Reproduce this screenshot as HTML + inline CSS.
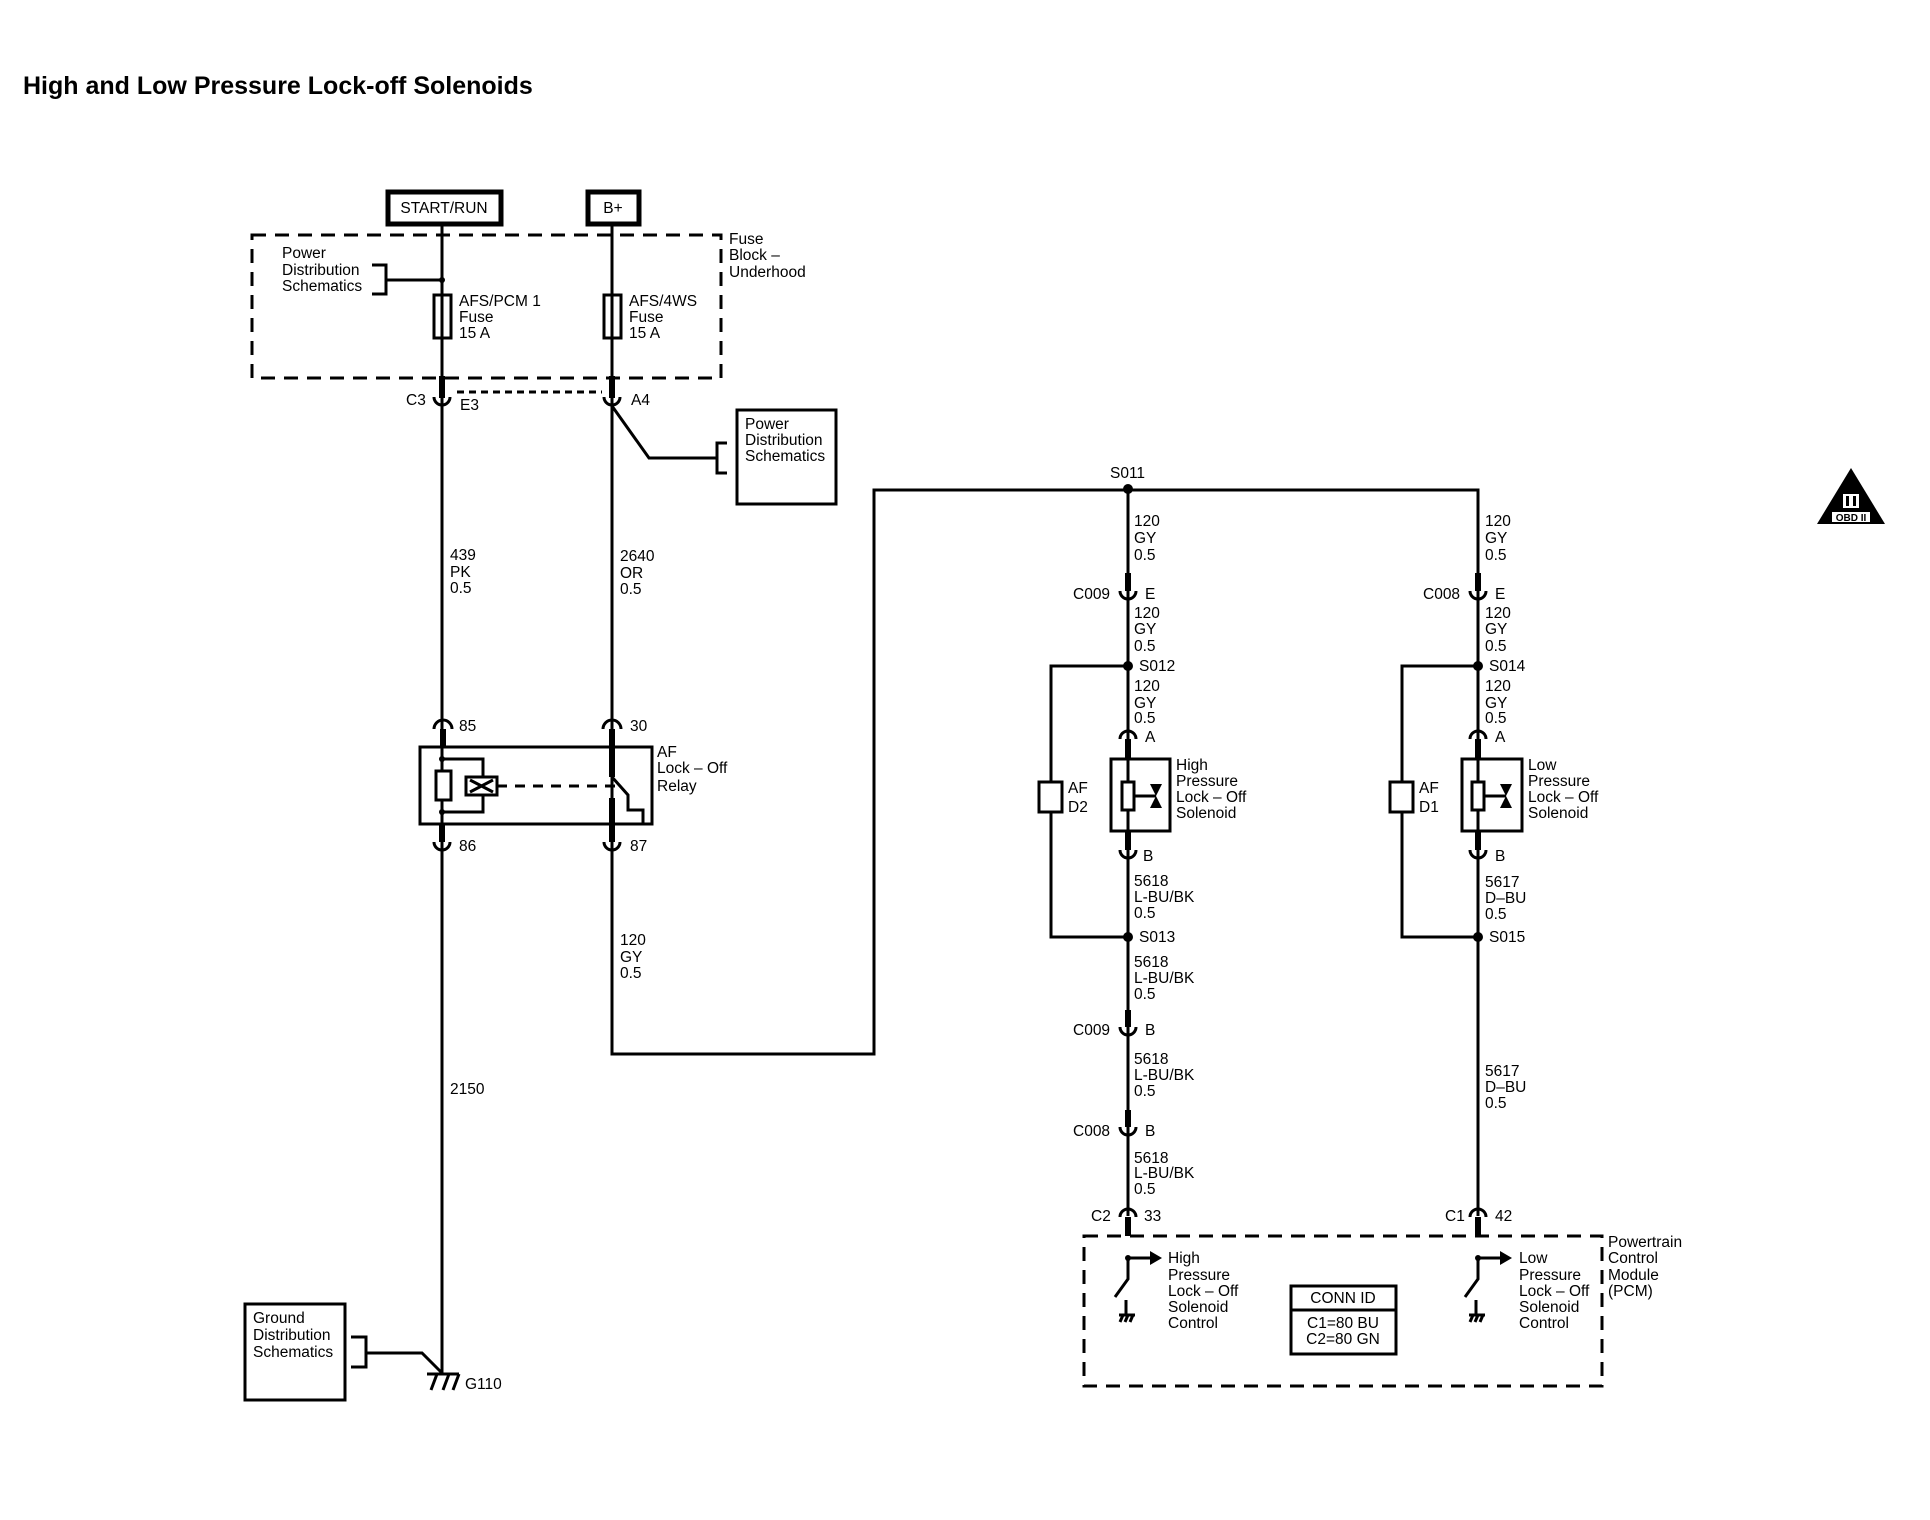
<!DOCTYPE html>
<html><head><meta charset="utf-8"><style>
html,body{margin:0;padding:0;background:#fff;}
svg{display:block;}
text{font-family:"Liberation Sans",sans-serif;font-size:15.5px;fill:#000;}
</style></head><body>
<svg width="1930" height="1520" viewBox="0 0 1930 1520" xmlns="http://www.w3.org/2000/svg">
<g fill="none" stroke="#000" stroke-width="3">
<path d="M442 226V1374"/>
<path d="M612 226V1054H874V490H1478V1216"/>
<path d="M1128 489V1216"/>
<rect x="388" y="192" width="113" height="32" stroke-width="5" fill="#fff"/>
<rect x="588" y="192" width="51" height="32" stroke-width="5" fill="#fff"/>
<rect x="252" y="235" width="469" height="143" stroke-dasharray="14 9"/>
<path d="M372 265H386V294H372M386 280H442"/>
<rect x="434" y="295" width="17" height="43" fill="#fff"/>
<path d="M442 295V338"/>
<rect x="604" y="295" width="17" height="43" fill="#fff"/>
<path d="M612 295V338"/>
<path d="M457 392H602" stroke-dasharray="7 5"/>
<path d="M434 397A8 8 0 0 0 450 397M604 397A8 8 0 0 0 620 397"/>
<path d="M612 406L649 458H717M727 443H717V473H727"/>
<rect x="737" y="410" width="99" height="94"/>
<path d="M434 729A9 9 0 0 1 452 729M603 729A9 9 0 0 1 621 729"/>
<rect x="420" y="747" width="232" height="77"/>
<path d="M442 759H483V777M483 795V812H442"/>
<rect x="436" y="771" width="15" height="29" fill="#fff"/>
<rect x="466" y="777" width="31" height="18" fill="#fff"/>
<path d="M470 780L493 792M493 780L470 792"/>
<path d="M497 786H620" stroke-dasharray="10 8"/>
<path d="M612 777L628 795V810H643V824"/>
<path d="M434 842A8 8 0 0 0 450 842M604 842A8 8 0 0 0 620 842"/>
<rect x="245" y="1304" width="100" height="96"/>
<path d="M351 1337H366V1367H351M366 1353H422L442 1373"/>
<path d="M427 1374H459M437 1374L431 1390M449 1374L443 1390M459 1374L453 1390"/>
<path d="M1128 666H1051V937H1128M1478 666H1402V937H1478"/>
<rect x="1039" y="782" width="23" height="30" fill="#fff"/>
<rect x="1390" y="782" width="23" height="30" fill="#fff"/>
<path d="M1120 591A8 8 0 0 0 1136 591M1470 591A8 8 0 0 0 1486 591"/>
<path d="M1120 739A8 8 0 0 1 1136 739M1470 739A8 8 0 0 1 1486 739"/>
<path d="M1120 850A8 8 0 0 0 1136 850M1470 850A8 8 0 0 0 1486 850"/>
<path d="M1120 1027A8 8 0 0 0 1136 1027M1120 1127A8 8 0 0 0 1136 1127"/>
<path d="M1120 1217A8 8 0 0 1 1136 1217M1470 1217A8 8 0 0 1 1486 1217"/>
<rect x="1111" y="759" width="59" height="72"/>
<rect x="1462" y="759" width="60" height="72"/>
<rect x="1122" y="782" width="12" height="28" fill="#fff"/>
<rect x="1472" y="782" width="12" height="28" fill="#fff"/>
<path d="M1134 796H1156M1484 796H1506"/>
<rect x="1084" y="1236" width="518" height="150" stroke-dasharray="14 9"/>
<path d="M1128 1258H1150M1128 1258V1279L1115 1297M1126 1300V1314M1119 1315H1135M1123 1315L1120 1322M1128 1315L1125 1322M1133 1315L1130 1322"/>
<path d="M1478 1258H1500M1478 1258V1279L1465 1297M1476 1300V1314M1469 1315H1485M1473 1315L1470 1322M1478 1315L1475 1322M1483 1315L1480 1322"/>
<rect x="1291" y="1286" width="105" height="68"/>
<path d="M1291 1310H1396"/>
</g>
<g stroke="#000" stroke-width="6" fill="none">
<path d="M442 376V398M612 376V398"/>
<path d="M443 729V747M612 729V777M612 798V842M442 824V842"/>
<path d="M1128 573V591M1478 573V591M1128 739V759M1478 739V759M1128 831V850M1478 831V850"/>
<path d="M1128 1010V1027M1128 1110V1127"/>
<path d="M1128 1217V1236M1478 1217V1236"/>
</g>
<g fill="#000">
<circle cx="442" cy="280" r="3"/>
<circle cx="442" cy="759" r="3"/><circle cx="442" cy="812" r="3"/>
<circle cx="1128" cy="489" r="5"/>
<circle cx="1128" cy="666" r="5"/><circle cx="1128" cy="937" r="5"/>
<circle cx="1478" cy="666" r="5"/><circle cx="1478" cy="937" r="5"/>
<circle cx="1128" cy="1258" r="3"/><circle cx="1478" cy="1258" r="3"/>
<polygon points="1150,784 1162,784 1156,796 1162,808 1150,808 1156,796"/>
<polygon points="1500,784 1512,784 1506,796 1512,808 1500,808 1506,796"/>
<polygon points="1150,1251 1162,1258 1150,1265"/>
<polygon points="1500,1251 1512,1258 1500,1265"/>
<polygon points="1851,468 1885,524 1817,524"/>
</g>
<rect x="1832" y="512" width="38" height="10" fill="#fff"/>
<rect x="1843" y="494" width="16" height="14" fill="#fff"/>
<rect x="1846" y="496" width="3" height="10" fill="#000"/><rect x="1853" y="496" width="3" height="10" fill="#000"/>
<text x="1851" y="521" text-anchor="middle" style="font-size:10px;font-weight:bold">OBD II</text>

<text x="23" y="94" style="font-size:25px;font-weight:bold">High and Low Pressure Lock-off Solenoids</text>
<text x="444" y="213" text-anchor="middle">START/RUN</text>
<text x="613" y="213" text-anchor="middle">B+</text>
<text x="729" y="244">Fuse</text><text x="729" y="260">Block –</text><text x="729" y="277">Underhood</text>
<text x="282" y="258">Power</text><text x="282" y="275">Distribution</text><text x="282" y="291">Schematics</text>
<text x="459" y="306">AFS/PCM 1</text><text x="459" y="322">Fuse</text><text x="459" y="338">15 A</text>
<text x="629" y="306">AFS/4WS</text><text x="629" y="322">Fuse</text><text x="629" y="338">15 A</text>
<text x="406" y="405">C3</text><text x="460" y="410">E3</text><text x="631" y="405">A4</text>
<text x="745" y="429">Power</text><text x="745" y="445">Distribution</text><text x="745" y="461">Schematics</text>
<text x="450" y="560">439</text><text x="450" y="577">PK</text><text x="450" y="593">0.5</text>
<text x="620" y="561">2640</text><text x="620" y="578">OR</text><text x="620" y="594">0.5</text>
<text x="459" y="731">85</text><text x="630" y="731">30</text>
<text x="657" y="757">AF</text><text x="657" y="773">Lock – Off</text><text x="657" y="791">Relay</text>
<text x="459" y="851">86</text><text x="630" y="851">87</text>
<text x="620" y="945">120</text><text x="620" y="962">GY</text><text x="620" y="978">0.5</text>
<text x="450" y="1094">2150</text>
<text x="253" y="1323">Ground</text><text x="253" y="1340">Distribution</text><text x="253" y="1357">Schematics</text>
<text x="465" y="1389">G110</text>
<text x="1110" y="478">S011</text>
<text x="1134" y="526">120</text><text x="1134" y="543">GY</text><text x="1134" y="560">0.5</text>
<text x="1485" y="526">120</text><text x="1485" y="543">GY</text><text x="1485" y="560">0.5</text>
<text x="1073" y="599">C009</text><text x="1145" y="599">E</text>
<text x="1423" y="599">C008</text><text x="1495" y="599">E</text>
<text x="1134" y="618">120</text><text x="1134" y="634">GY</text><text x="1134" y="651">0.5</text>
<text x="1485" y="618">120</text><text x="1485" y="634">GY</text><text x="1485" y="651">0.5</text>
<text x="1139" y="671">S012</text><text x="1489" y="671">S014</text>
<text x="1134" y="691">120</text><text x="1134" y="708">GY</text><text x="1134" y="723">0.5</text>
<text x="1485" y="691">120</text><text x="1485" y="708">GY</text><text x="1485" y="723">0.5</text>
<text x="1145" y="742">A</text><text x="1495" y="742">A</text>
<text x="1068" y="793">AF</text><text x="1068" y="812">D2</text>
<text x="1419" y="793">AF</text><text x="1419" y="812">D1</text>
<text x="1176" y="770">High</text><text x="1176" y="786">Pressure</text><text x="1176" y="802">Lock – Off</text><text x="1176" y="818">Solenoid</text>
<text x="1528" y="770">Low</text><text x="1528" y="786">Pressure</text><text x="1528" y="802">Lock – Off</text><text x="1528" y="818">Solenoid</text>
<text x="1143" y="861">B</text><text x="1495" y="861">B</text>
<text x="1134" y="886">5618</text><text x="1134" y="902">L-BU/BK</text><text x="1134" y="918">0.5</text>
<text x="1485" y="887">5617</text><text x="1485" y="903">D–BU</text><text x="1485" y="919">0.5</text>
<text x="1139" y="942">S013</text><text x="1489" y="942">S015</text>
<text x="1134" y="967">5618</text><text x="1134" y="983">L-BU/BK</text><text x="1134" y="999">0.5</text>
<text x="1073" y="1035">C009</text><text x="1145" y="1035">B</text>
<text x="1134" y="1064">5618</text><text x="1134" y="1080">L-BU/BK</text><text x="1134" y="1096">0.5</text>
<text x="1485" y="1076">5617</text><text x="1485" y="1092">D–BU</text><text x="1485" y="1108">0.5</text>
<text x="1073" y="1136">C008</text><text x="1145" y="1136">B</text>
<text x="1134" y="1163">5618</text><text x="1134" y="1178">L-BU/BK</text><text x="1134" y="1194">0.5</text>
<text x="1091" y="1221">C2</text><text x="1144" y="1221">33</text>
<text x="1445" y="1221">C1</text><text x="1495" y="1221">42</text>
<text x="1168" y="1263">High</text><text x="1168" y="1280">Pressure</text><text x="1168" y="1296">Lock – Off</text><text x="1168" y="1312">Solenoid</text><text x="1168" y="1328">Control</text>
<text x="1519" y="1263">Low</text><text x="1519" y="1280">Pressure</text><text x="1519" y="1296">Lock – Off</text><text x="1519" y="1312">Solenoid</text><text x="1519" y="1328">Control</text>
<text x="1343" y="1303" text-anchor="middle">CONN ID</text>
<text x="1343" y="1328" text-anchor="middle">C1=80 BU</text>
<text x="1343" y="1344" text-anchor="middle">C2=80 GN</text>
<text x="1608" y="1247">Powertrain</text><text x="1608" y="1263">Control</text><text x="1608" y="1280">Module</text><text x="1608" y="1296">(PCM)</text>
</svg>
</body></html>
